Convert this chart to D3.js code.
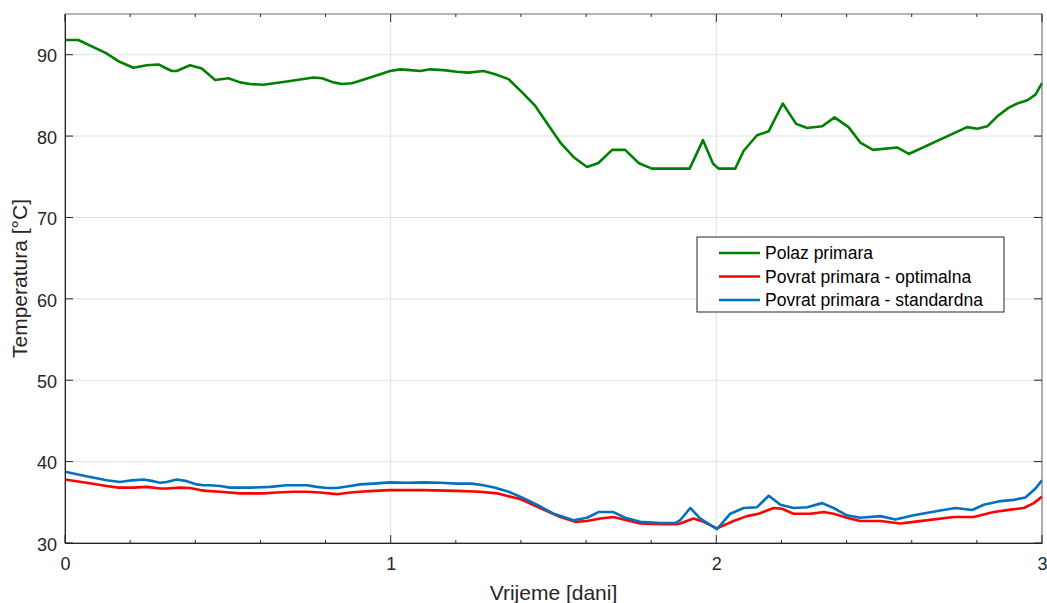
<!DOCTYPE html>
<html>
<head>
<meta charset="utf-8">
<script src="https://cdn.jsdelivr.net/npm/d3@7"></script>
<style>
  body { margin: 0; background: #fff; }
  svg { display: block; font-family: "Liberation Sans", Arial, sans-serif; }
</style>
</head>
<body>
<svg id="chart"></svg>
<script>
// Polaz primara (supply)
const polazDays = [0, 0.041, 0.126, 0.164, 0.210, 0.251, 0.287, 0.307, 0.328, 0.343, 0.384, 0.420, 0.461, 0.502, 0.538, 0.568, 0.609, 0.681, 0.763, 0.789, 0.824, 0.850, 0.881, 0.906, 0.968, 0.998, 1.029, 1.060, 1.091, 1.121, 1.162, 1.203, 1.239, 1.285, 1.321, 1.362, 1.403, 1.444, 1.485, 1.521, 1.562, 1.603, 1.638, 1.680, 1.720, 1.761, 1.802, 1.918, 1.959, 1.990, 2.007, 2.058, 2.084, 2.125, 2.161, 2.204, 2.245, 2.279, 2.325, 2.363, 2.406, 2.442, 2.481, 2.555, 2.591, 2.770, 2.801, 2.832, 2.862, 2.898, 2.924, 2.955, 2.980, 3.0];
const polazTemp = [91.8, 91.8, 90.2, 89.2, 88.4, 88.7, 88.8, 88.4, 88.0, 88.0, 88.7, 88.3, 86.9, 87.1, 86.6, 86.4, 86.3, 86.7, 87.2, 87.1, 86.6, 86.4, 86.5, 86.8, 87.6, 88.0, 88.2, 88.1, 88.0, 88.2, 88.1, 87.9, 87.8, 88.0, 87.6, 87.0, 85.4, 83.7, 81.3, 79.2, 77.4, 76.2, 76.7, 78.3, 78.3, 76.7, 76.0, 76.0, 79.5, 76.6, 76.0, 76.0, 78.2, 80.1, 80.6, 84.0, 81.5, 81.0, 81.2, 82.3, 81.1, 79.2, 78.3, 78.6, 77.8, 81.1, 80.9, 81.2, 82.4, 83.5, 84.0, 84.4, 85.1, 86.5];

// Povrat primara - optimalna (return, optimal)
const optDays = [0, 0.066, 0.128, 0.164, 0.210, 0.251, 0.292, 0.312, 0.353, 0.384, 0.415, 0.435, 0.476, 0.538, 0.609, 0.650, 0.701, 0.743, 0.783, 0.835, 0.876, 0.906, 0.947, 0.998, 1.101, 1.203, 1.275, 1.326, 1.398, 1.459, 1.521, 1.567, 1.603, 1.644, 1.684, 1.725, 1.766, 1.828, 1.874, 1.889, 1.930, 1.961, 2.002, 2.053, 2.094, 2.130, 2.176, 2.202, 2.237, 2.289, 2.330, 2.360, 2.401, 2.442, 2.504, 2.565, 2.606, 2.729, 2.790, 2.852, 2.903, 2.944, 2.975, 3.0];
const optTemp = [37.8, 37.4, 37.0, 36.8, 36.8, 36.9, 36.7, 36.7, 36.8, 36.75, 36.5, 36.4, 36.3, 36.1, 36.1, 36.2, 36.3, 36.3, 36.2, 36.0, 36.2, 36.3, 36.4, 36.5, 36.5, 36.4, 36.3, 36.1, 35.4, 34.3, 33.2, 32.6, 32.7, 33.0, 33.2, 32.8, 32.4, 32.3, 32.3, 32.4, 33.0, 32.6, 31.8, 32.7, 33.3, 33.6, 34.3, 34.2, 33.6, 33.6, 33.8, 33.6, 33.1, 32.7, 32.7, 32.4, 32.6, 33.2, 33.2, 33.8, 34.1, 34.3, 34.9, 35.7];

// Povrat primara - standardna (return, standard)
const stdDays = [0, 0.066, 0.128, 0.169, 0.205, 0.241, 0.271, 0.292, 0.312, 0.343, 0.374, 0.405, 0.425, 0.445, 0.476, 0.507, 0.568, 0.630, 0.681, 0.743, 0.773, 0.804, 0.835, 0.876, 0.906, 0.947, 0.998, 1.050, 1.101, 1.152, 1.203, 1.249, 1.285, 1.321, 1.362, 1.403, 1.449, 1.500, 1.562, 1.603, 1.638, 1.684, 1.720, 1.766, 1.828, 1.874, 1.889, 1.920, 1.951, 2.002, 2.043, 2.084, 2.125, 2.161, 2.197, 2.237, 2.279, 2.325, 2.360, 2.401, 2.442, 2.504, 2.550, 2.606, 2.688, 2.734, 2.786, 2.821, 2.873, 2.913, 2.949, 2.980, 3.0];
const stdTemp = [38.75, 38.2, 37.7, 37.5, 37.7, 37.8, 37.6, 37.4, 37.5, 37.8, 37.6, 37.2, 37.1, 37.1, 37.0, 36.8, 36.8, 36.9, 37.1, 37.1, 36.9, 36.75, 36.75, 37.0, 37.2, 37.3, 37.45, 37.4, 37.45, 37.4, 37.3, 37.3, 37.1, 36.8, 36.3, 35.6, 34.7, 33.6, 32.8, 33.1, 33.8, 33.8, 33.1, 32.6, 32.45, 32.45, 32.8, 34.3, 33.0, 31.7, 33.6, 34.3, 34.4, 35.8, 34.7, 34.3, 34.4, 34.9, 34.3, 33.4, 33.1, 33.3, 32.9, 33.4, 34.0, 34.3, 34.05, 34.7, 35.15, 35.3, 35.6, 36.7, 37.7];

const xTicks = [0, 1, 2, 3];
const xMinorTicks = d3.range(0, 3.0001, 0.2);
const yTicks = [30, 40, 50, 60, 70, 80, 90];

const seriesNames = ["Polaz primara", "Povrat primara - optimalna", "Povrat primara - standardna"];
const seriesColors = ["#008000", "#ff0000", "#0072bd"];

const width = 1047, height = 603;
const margin = { top: 14, right: 5, bottom: 60, left: 65 };
const innerW = width - margin.left - margin.right;
const innerH = height - margin.top - margin.bottom;

const svg = d3.select("#chart").attr("width", width).attr("height", height);

const x = d3.scaleLinear().domain([0, 3]).range([0, innerW]);
const y = d3.scaleLinear().domain([30, 95]).range([innerH, 0]);

const g = svg.append("g").attr("transform", `translate(${margin.left},${margin.top})`);

// grid
g.append("g")
    .selectAll("line")
    .data(yTicks)
    .join("line")
    .attr("x1", 0).attr("x2", innerW)
    .attr("y1", d => y(d)).attr("y2", d => y(d))
    .attr("stroke", "#e2e2e2").attr("stroke-width", 1);

g.append("g")
    .selectAll("line")
    .data(xTicks)
    .join("line")
    .attr("x1", d => x(d)).attr("x2", d => x(d))
    .attr("y1", 0).attr("y2", innerH)
    .attr("stroke", "#e2e2e2").attr("stroke-width", 1);

// series
const series = [
    polazDays.map((d, i) => [d, polazTemp[i]]),
    optDays.map((d, i) => [d, optTemp[i]]),
    stdDays.map((d, i) => [d, stdTemp[i]])
];

const line = d3.line().x(d => x(d[0])).y(d => y(d[1]));

g.append("g")
    .selectAll("path")
    .data(series)
    .join("path")
    .attr("d", line)
    .attr("fill", "none")
    .attr("stroke", (d, i) => seriesColors[i])
    .attr("stroke-width", 2.6)
    .attr("stroke-linejoin", "round");

// box
g.append("rect")
    .attr("width", innerW).attr("height", innerH)
    .attr("fill", "none")
    .attr("stroke", "#6a6a6a").attr("stroke-width", 1);

// axes
const tickFont = 18;
const xAxis = g.append("g").attr("transform", `translate(0,${innerH})`)
    .call(d3.axisBottom(x).tickValues(xTicks).tickFormat(d3.format("d")).tickSize(0).tickPadding(14));
const yAxis = g.append("g")
    .call(d3.axisLeft(y).tickValues(yTicks).tickSize(0).tickPadding(8));

[xAxis, yAxis].forEach(a => {
    a.select(".domain").attr("stroke", "#262626").attr("stroke-width", 1);
    a.selectAll("text").attr("font-size", tickFont).attr("fill", "#262626")
        .attr("font-family", "Liberation Sans, Arial, sans-serif");
});
yAxis.selectAll("text").attr("dy", "0.4em");

// tick marks (inside), bottom/top minor + major, left/right major
const isMajor = d => Math.abs(d - Math.round(d)) < 1e-6;
const tickG = g.append("g").attr("stroke", "#262626").attr("stroke-width", 1);
tickG.selectAll(".xt")
    .data(xMinorTicks)
    .join("line")
    .attr("x1", d => x(d)).attr("x2", d => x(d))
    .attr("y1", innerH).attr("y2", d => innerH - (isMajor(d) ? 8 : 3));
tickG.selectAll(".xtt")
    .data(xMinorTicks)
    .join("line")
    .attr("x1", d => x(d)).attr("x2", d => x(d))
    .attr("y1", 0).attr("y2", d => (isMajor(d) ? 8 : 3));
tickG.selectAll(".yt")
    .data(yTicks)
    .join("line")
    .attr("x1", 0).attr("x2", 8)
    .attr("y1", d => y(d)).attr("y2", d => y(d));
tickG.selectAll(".ytr")
    .data(yTicks)
    .join("line")
    .attr("x1", innerW - 8).attr("x2", innerW)
    .attr("y1", d => y(d)).attr("y2", d => y(d));

// axis titles
svg.append("text")
    .attr("x", margin.left + innerW / 2)
    .attr("y", 600)
    .attr("text-anchor", "middle")
    .attr("font-size", 21)
    .attr("fill", "#262626")
    .text("Vrijeme [dani]");

svg.append("text")
    .attr("transform", `translate(27,${margin.top + innerH / 2}) rotate(-90)`)
    .attr("text-anchor", "middle")
    .attr("font-size", 21)
    .attr("fill", "#262626")
    .text("Temperatura [°C]");

// legend
const legend = svg.append("g").attr("transform", "translate(697,237)");
legend.append("rect")
    .attr("width", 307).attr("height", 75)
    .attr("fill", "#fff")
    .attr("stroke", "#262626").attr("stroke-width", 1);

const rows = legend.selectAll("g")
    .data(seriesNames)
    .join("g")
    .attr("transform", (d, i) => `translate(0,${16 + i * 23.5})`);
rows.append("line")
    .attr("x1", 22).attr("x2", 63)
    .attr("stroke", (d, i) => seriesColors[i])
    .attr("stroke-width", 2.6);
rows.append("text")
    .attr("x", 68)
    .attr("dy", "0.35em")
    .attr("font-size", 17.5)
    .attr("fill", "#000")
    .text(d => d);
</script>
</body>
</html>
